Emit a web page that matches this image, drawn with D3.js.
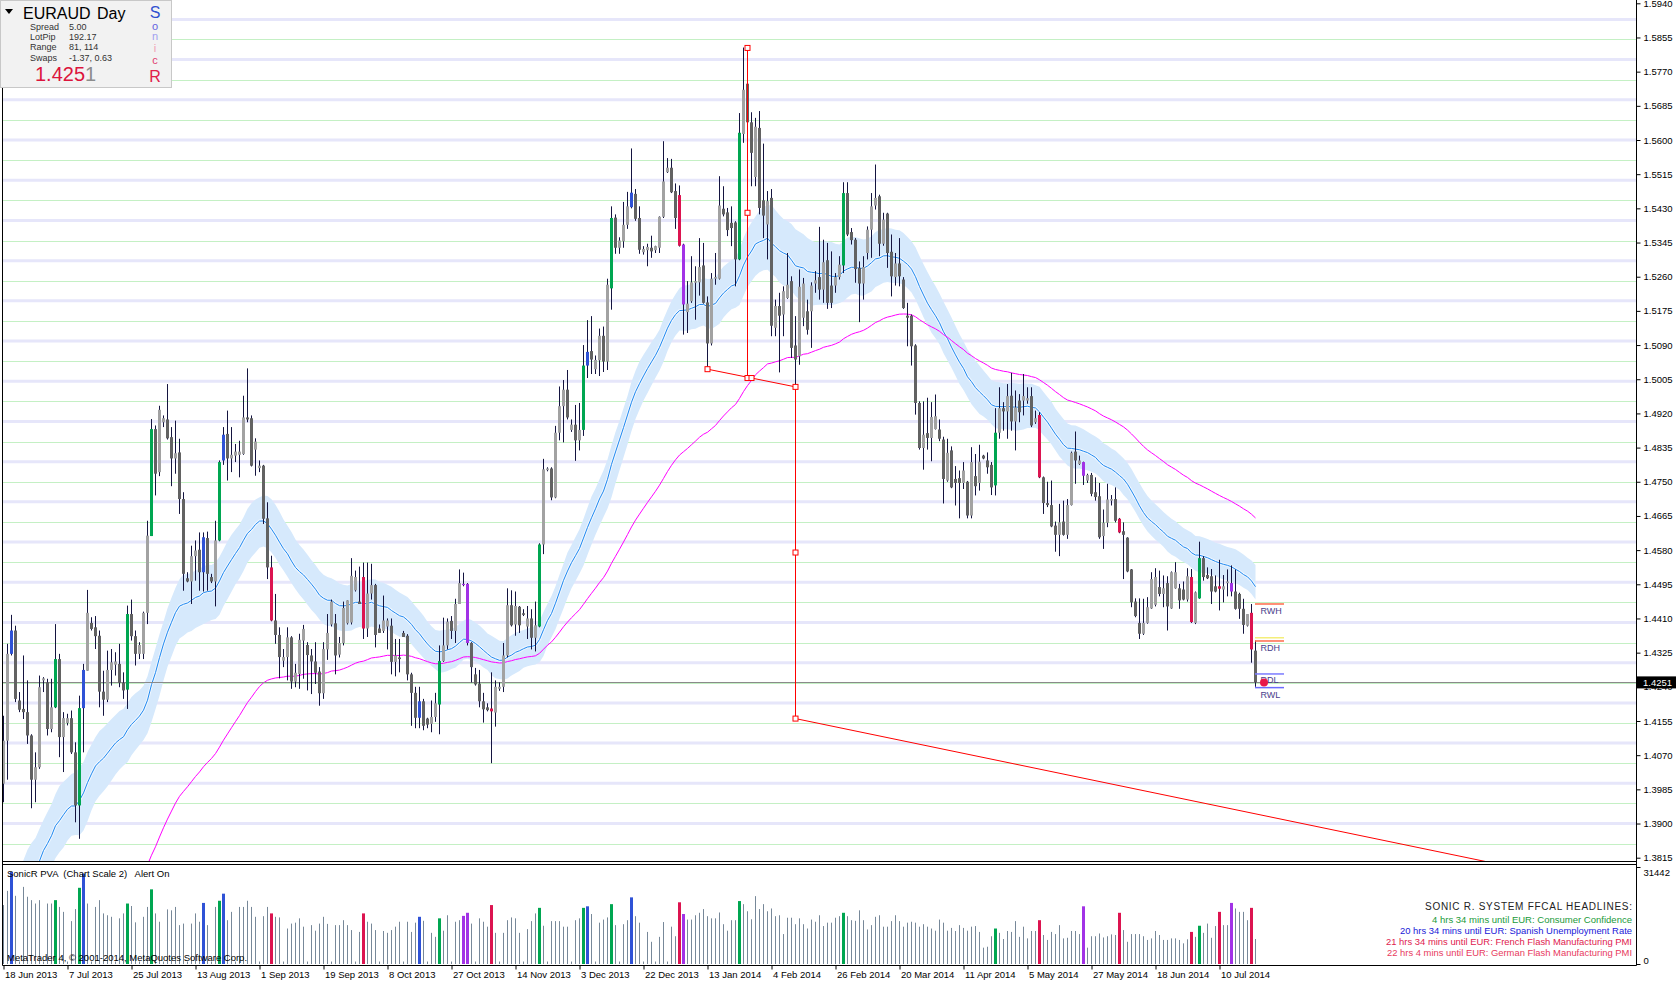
<!DOCTYPE html>
<html><head><meta charset="utf-8">
<script src="https://cdn.jsdelivr.net/npm/d3@7"></script>
<style>
body{margin:0;background:#fff;overflow:hidden}
svg{display:block;font-family:"Liberation Sans",Arial,sans-serif}
</style></head>
<body>
<svg id="chart" width="1676" height="983"></svg>
<script>
// ---------------- DATA ----------------
const opens=[1.3999,1.4106,1.4322,1.4380,1.4206,1.4185,1.4177,1.4119,1.4009,1.4040,1.4256,1.4251,1.4135,1.4189,1.4309,1.4115,1.4150,1.4162,1.4077,1.3945,1.4187,1.4280,1.4399,1.4388,1.4367,1.4228,1.4208,1.4282,1.4295,1.4297,1.4250,1.4233,1.4421,1.4366,1.4322,1.4322,1.4424,1.4615,1.4881,1.4774,1.4898,1.4905,1.4861,1.4808,1.4823,1.4707,1.4510,1.4502,1.4565,1.4581,1.4525,1.4610,1.4513,1.4502,1.4604,1.4803,1.4869,1.4808,1.4815,1.4817,1.4819,1.4910,1.4908,1.4830,1.4784,1.4790,1.4659,1.4537,1.4405,1.4369,1.4305,1.4314,1.4363,1.4253,1.4272,1.4355,1.4344,1.4318,1.4303,1.4278,1.4224,1.4333,1.4395,1.4398,1.4320,1.4349,1.4398,1.4400,1.4480,1.4452,1.4513,1.4385,1.4472,1.4493,1.4385,1.4379,1.4390,1.4392,1.4302,1.4313,1.4374,1.4367,1.4271,1.4225,1.4163,1.4204,1.4161,1.4148,1.4165,1.4196,1.4304,1.4343,1.4404,1.4379,1.4446,1.4493,1.4496,1.4349,1.4271,1.4248,1.4204,1.4189,1.4186,1.4176,1.4235,1.4240,1.4318,1.4443,1.4395,1.4439,1.4423,1.4390,1.4410,1.4362,1.4390,1.4594,1.4779,1.4783,1.4711,1.4872,1.4938,1.4979,1.4879,1.4892,1.4853,1.4879,1.5039,1.5075,1.5030,1.5052,1.5113,1.5049,1.5231,1.5407,1.5332,1.5348,1.5389,1.5433,1.5466,1.5406,1.5321,1.5326,1.5332,1.5326,1.5332,1.5409,1.5520,1.5531,1.5473,1.5463,1.5340,1.5172,1.5199,1.5245,1.5246,1.5288,1.5196,1.5094,1.5255,1.5255,1.5429,1.5420,1.5394,1.5395,1.5303,1.5615,1.5740,1.5644,1.5508,1.5630,1.5450,1.5390,1.5456,1.5133,1.5187,1.5166,1.5207,1.5249,1.5089,1.5062,1.5158,1.5174,1.5174,1.5243,1.5259,1.5228,1.5301,1.5238,1.5238,1.5259,1.5288,1.5468,1.5371,1.5352,1.5282,1.5243,1.5319,1.5377,1.5437,1.5460,1.5342,1.5417,1.5322,1.5259,1.5293,1.5253,1.5163,1.5163,1.5089,1.4946,1.4834,1.4871,1.4859,1.4881,1.4880,1.4855,1.4753,1.4828,1.4757,1.4759,1.4747,1.4750,1.4666,1.4764,1.4747,1.4815,1.4803,1.4792,1.4741,1.4872,1.4933,1.4925,1.4964,1.4900,1.4952,1.4952,1.4952,1.4963,1.4898,1.4916,1.4761,1.4697,1.4692,1.4641,1.4618,1.4651,1.4618,1.4692,1.4825,1.4794,1.4799,1.4753,1.4767,1.4724,1.4714,1.4615,1.4648,1.4703,1.4707,1.4658,1.4627,1.4611,1.4532,1.4452,1.4399,1.4372,1.4399,1.4435,1.4444,1.4488,1.4471,1.4498,1.4435,1.4485,1.4485,1.4482,1.4457,1.4513,1.4399,1.4460,1.4560,1.4518,1.4515,1.4490,1.4490,1.4482,1.4498,1.4498,1.4477,1.4471,1.4434,1.4392,1.4424,1.4330];
const highs=[1.4168,1.4347,1.4419,1.4392,1.4227,1.4318,1.4256,1.4122,1.4077,1.4268,1.4264,1.4260,1.4260,1.4396,1.4322,1.4177,1.4173,1.4181,1.4102,1.4218,1.4297,1.4481,1.4413,1.4416,1.4380,1.4280,1.4330,1.4334,1.4326,1.4347,1.4276,1.4442,1.4457,1.4380,1.4351,1.4427,1.4653,1.4906,1.4890,1.4939,1.4915,1.4993,1.4886,1.4902,1.4857,1.4724,1.4525,1.4591,1.4604,1.4624,1.4624,1.4626,1.4521,1.4653,1.4803,1.4886,1.4927,1.4886,1.4844,1.4852,1.4964,1.5032,1.4915,1.4858,1.4803,1.4792,1.4699,1.4566,1.4471,1.4388,1.4334,1.4388,1.4366,1.4297,1.4372,1.4394,1.4351,1.4334,1.4351,1.4289,1.4351,1.4421,1.4457,1.4421,1.4364,1.4452,1.4455,1.4560,1.4529,1.4539,1.4549,1.4549,1.4546,1.4496,1.4395,1.4467,1.4410,1.4410,1.4359,1.4359,1.4379,1.4371,1.4275,1.4240,1.4240,1.4210,1.4163,1.4206,1.4225,1.4343,1.4412,1.4410,1.4416,1.4459,1.4532,1.4524,1.4498,1.4351,1.4287,1.4282,1.4225,1.4199,1.4276,1.4256,1.4251,1.4349,1.4485,1.4480,1.4477,1.4441,1.4433,1.4441,1.4433,1.4452,1.4597,1.4807,1.4786,1.4786,1.4889,1.4987,1.5003,1.5028,1.4905,1.4941,1.4946,1.5090,1.5152,1.5162,1.5064,1.5131,1.5136,1.5255,1.5435,1.5415,1.5358,1.5446,1.5471,1.5579,1.5478,1.5435,1.5336,1.5342,1.5362,1.5337,1.5410,1.5597,1.5555,1.5553,1.5492,1.5487,1.5342,1.5249,1.5311,1.5286,1.5356,1.5344,1.5211,1.5269,1.5319,1.5510,1.5485,1.5431,1.5435,1.5398,1.5667,1.5830,1.5742,1.5669,1.5655,1.5672,1.5591,1.5473,1.5478,1.5203,1.5220,1.5236,1.5319,1.5261,1.5162,1.5278,1.5257,1.5203,1.5246,1.5274,1.5384,1.5352,1.5344,1.5323,1.5269,1.5311,1.5495,1.5495,1.5381,1.5356,1.5298,1.5311,1.5385,1.5468,1.5539,1.5464,1.5419,1.5419,1.5365,1.5319,1.5356,1.5259,1.5195,1.5166,1.5092,1.4950,1.4950,1.4959,1.4948,1.4967,1.4905,1.4862,1.4857,1.4838,1.4789,1.4778,1.4799,1.4752,1.4836,1.4819,1.4842,1.4817,1.4823,1.4799,1.4933,1.4985,1.4948,1.4993,1.5021,1.4977,1.4968,1.5018,1.4985,1.4985,1.4927,1.4923,1.4763,1.4750,1.4753,1.4651,1.4695,1.4703,1.4707,1.4825,1.4875,1.4815,1.4800,1.4770,1.4772,1.4761,1.4747,1.4681,1.4745,1.4717,1.4736,1.4660,1.4649,1.4612,1.4533,1.4460,1.4460,1.4459,1.4463,1.4525,1.4535,1.4529,1.4517,1.4515,1.4527,1.4550,1.4496,1.4502,1.4535,1.4533,1.4477,1.4601,1.4565,1.4537,1.4533,1.4517,1.4556,1.4518,1.4532,1.4542,1.4532,1.4474,1.4459,1.4421,1.4446,1.4355];
const lows=[1.3953,1.4009,1.4318,1.4202,1.4177,1.4160,1.4098,1.3938,1.3953,1.4036,1.4227,1.4119,1.4127,1.4187,1.4065,1.4028,1.4144,1.4073,1.3903,1.3862,1.4077,1.4280,1.4380,1.4334,1.4189,1.4168,1.4202,1.4243,1.4268,1.4239,1.4210,1.4185,1.4355,1.4293,1.4309,1.4309,1.4396,1.4615,1.4716,1.4764,1.4886,1.4855,1.4739,1.4770,1.4670,1.4479,1.4500,1.4446,1.4504,1.4479,1.4477,1.4479,1.4498,1.4440,1.4602,1.4792,1.4753,1.4774,1.4799,1.4761,1.4817,1.4898,1.4788,1.4765,1.4774,1.4645,1.4508,1.4403,1.4347,1.4261,1.4289,1.4256,1.4235,1.4239,1.4235,1.4260,1.4231,1.4222,1.4247,1.4193,1.4210,1.4307,1.4390,1.4271,1.4313,1.4343,1.4395,1.4395,1.4477,1.4446,1.4359,1.4364,1.4457,1.4338,1.4374,1.4374,1.4333,1.4271,1.4266,1.4276,1.4364,1.4256,1.4143,1.4137,1.4137,1.4132,1.4137,1.4127,1.4153,1.4122,1.4302,1.4333,1.4359,1.4349,1.4446,1.4490,1.4343,1.4251,1.4243,1.4189,1.4151,1.4179,1.4050,1.4141,1.4230,1.4227,1.4313,1.4390,1.4367,1.4374,1.4416,1.4359,1.4333,1.4328,1.4388,1.4570,1.4776,1.4704,1.4709,1.4853,1.4848,1.4905,1.4874,1.4802,1.4828,1.4864,1.5008,1.5018,1.5018,1.5013,1.5023,1.5028,1.5178,1.5317,1.5317,1.5332,1.5379,1.5430,1.5399,1.5317,1.5315,1.5286,1.5307,1.5319,1.5319,1.5406,1.5518,1.5468,1.5379,1.5335,1.5116,1.5120,1.5195,1.5153,1.5213,1.5193,1.5031,1.5089,1.5240,1.5253,1.5410,1.5361,1.5336,1.5236,1.5301,1.5593,1.5597,1.5485,1.5485,1.5415,1.5356,1.5303,1.5112,1.5112,1.5022,1.5112,1.5205,1.5058,1.4988,1.5041,1.5137,1.5116,1.5083,1.5220,1.5203,1.5195,1.5180,1.5182,1.5220,1.5253,1.5269,1.5361,1.5340,1.5245,1.5147,1.5203,1.5303,1.5307,1.5427,1.5311,1.5337,1.5282,1.5211,1.5238,1.5236,1.5180,1.5087,1.5039,1.4917,1.4830,1.4780,1.4830,1.4801,1.4880,1.4851,1.4696,1.4750,1.4734,1.4691,1.4659,1.4732,1.4659,1.4659,1.4716,1.4728,1.4806,1.4770,1.4717,1.4716,1.4857,1.4877,1.4857,1.4877,1.4828,1.4898,1.4915,1.4944,1.4886,1.4894,1.4759,1.4670,1.4687,1.4637,1.4576,1.4565,1.4616,1.4608,1.4691,1.4745,1.4792,1.4742,1.4747,1.4714,1.4703,1.4608,1.4583,1.4637,1.4691,1.4649,1.4622,1.4508,1.4525,1.4438,1.4413,1.4359,1.4369,1.4397,1.4434,1.4440,1.4465,1.4438,1.4380,1.4434,1.4484,1.4434,1.4455,1.4452,1.4399,1.4396,1.4459,1.4504,1.4508,1.4446,1.4475,1.4430,1.4450,1.4465,1.4465,1.4432,1.4409,1.4372,1.4390,1.4300,1.4240];
const closes=[1.4106,1.4322,1.4380,1.4210,1.4183,1.4177,1.4119,1.4009,1.4040,1.4239,1.4261,1.4135,1.4189,1.4309,1.4115,1.4162,1.4162,1.4077,1.3945,1.4187,1.4282,1.4424,1.4384,1.4366,1.4228,1.4208,1.4282,1.4301,1.4303,1.4250,1.4231,1.4421,1.4366,1.4322,1.4344,1.4424,1.4616,1.4881,1.4770,1.4929,1.4908,1.4858,1.4808,1.4821,1.4707,1.4521,1.4502,1.4565,1.4579,1.4525,1.4612,1.4521,1.4502,1.4604,1.4799,1.4867,1.4808,1.4817,1.4825,1.4825,1.4910,1.4905,1.4790,1.4850,1.4790,1.4658,1.4537,1.4405,1.4369,1.4314,1.4314,1.4363,1.4253,1.4275,1.4357,1.4384,1.4319,1.4303,1.4275,1.4224,1.4334,1.4374,1.4452,1.4318,1.4349,1.4436,1.4455,1.4516,1.4513,1.4446,1.4385,1.4472,1.4493,1.4369,1.4374,1.4405,1.4405,1.4302,1.4318,1.4309,1.4364,1.4271,1.4225,1.4163,1.4204,1.4143,1.4146,1.4165,1.4199,1.4304,1.4343,1.4402,1.4379,1.4446,1.4498,1.4496,1.4349,1.4289,1.4246,1.4204,1.4184,1.4182,1.4179,1.4240,1.4240,1.4318,1.4443,1.4393,1.4441,1.4393,1.4419,1.4410,1.4362,1.4393,1.4594,1.4781,1.4783,1.4711,1.4872,1.4938,1.4979,1.4910,1.4892,1.4853,1.4879,1.5039,1.5073,1.5054,1.5053,1.5113,1.5049,1.5240,1.5406,1.5332,1.5350,1.5389,1.5435,1.5469,1.5404,1.5327,1.5329,1.5334,1.5323,1.5336,1.5409,1.5497,1.5531,1.5470,1.5406,1.5337,1.5191,1.5193,1.5246,1.5249,1.5284,1.5195,1.5094,1.5255,1.5259,1.5437,1.5415,1.5376,1.5381,1.5303,1.5618,1.5725,1.5644,1.5568,1.5633,1.5431,1.5412,1.5448,1.5138,1.5187,1.5163,1.5224,1.5240,1.5083,1.5054,1.5235,1.5243,1.5128,1.5238,1.5251,1.5228,1.5296,1.5195,1.5195,1.5259,1.5290,1.5468,1.5365,1.5351,1.5279,1.5243,1.5284,1.5377,1.5435,1.5456,1.5342,1.5402,1.5319,1.5261,1.5293,1.5261,1.5182,1.5158,1.5087,1.4946,1.4834,1.4867,1.4859,1.4911,1.4913,1.4857,1.4757,1.4822,1.4736,1.4747,1.4747,1.4778,1.4666,1.4799,1.4739,1.4800,1.4808,1.4786,1.4736,1.4872,1.4933,1.4925,1.4963,1.4900,1.4935,1.4923,1.4963,1.4958,1.4890,1.4908,1.4761,1.4697,1.4692,1.4639,1.4618,1.4649,1.4618,1.4692,1.4822,1.4803,1.4803,1.4765,1.4767,1.4720,1.4712,1.4612,1.4648,1.4706,1.4707,1.4653,1.4624,1.4618,1.4527,1.4450,1.4416,1.4372,1.4399,1.4438,1.4508,1.4513,1.4471,1.4485,1.4440,1.4525,1.4525,1.4455,1.4457,1.4515,1.4401,1.4475,1.4560,1.4513,1.4510,1.4477,1.4477,1.4484,1.4490,1.4502,1.4477,1.4434,1.4434,1.4394,1.4421,1.4333,1.4251];
const volumes=[19100,23700,29800,22100,800,25000,21800,20700,19600,20700,800,19600,19600,20700,18500,16900,800,13900,17800,24700,29300,19600,800,18500,20700,16400,15800,15300,800,14800,16400,19600,18800,13500,800,15300,18500,24200,16400,13700,800,17700,17400,18500,12600,13100,800,13100,16400,13700,19800,12600,800,18500,20500,22800,14200,16900,800,18500,18500,20500,18500,15300,800,15500,18500,16400,15300,15100,800,11500,13100,13400,14800,12100,800,12600,10800,13100,15300,13000,800,12600,12600,14200,12600,11000,800,10400,16400,13700,13100,11000,800,10700,10100,11000,12100,13700,800,13700,10400,13400,15300,14000,800,10100,8800,14800,10800,15800,800,13700,14200,15600,16600,13100,800,14800,13700,12100,19100,10100,800,10100,14200,15100,14800,10100,800,11300,13900,16400,18200,12400,800,13900,13900,13900,12100,12100,800,14200,14800,18200,18700,16200,800,13400,14400,15100,19400,12600,800,12900,14200,21600,15500,13400,800,10400,7200,800,8800,13600,800,12100,9000,20000,16200,14400,14400,15800,16600,17800,15500,14800,14800,16700,12900,10800,14200,14200,20400,19400,17100,14500,22000,17800,19400,17100,18000,15500,15800,9700,15000,15000,12900,14800,12900,11500,14400,13700,15800,12300,13400,13400,15000,15500,16600,15500,14200,14000,17400,14200,11200,12600,15300,15800,12100,12100,13900,15800,13900,12100,13400,13700,13400,12100,12900,12100,11500,10800,14400,13400,10800,11700,10700,12600,11700,10800,12100,12300,10400,5300,5600,9000,11500,10100,8100,10700,10400,13900,8800,12100,8300,10700,10700,14200,9400,7800,10400,9700,12600,8300,8500,10700,10700,9700,18700,5300,9000,9000,9900,8600,9000,9600,9400,16600,11000,7200,9700,9700,9700,9000,7800,8300,10700,9400,7800,7800,8300,8300,7800,6700,8000,10400,8800,12400,10100,13100,8500,12300,16900,12600,12600,19800,18000,16900,16900,14200,18200,8100];
// special (PVA) bars
const greenIdx=[13,19,31,37,54,109,134,145,152,184,210,248,299];
const blueIdx=[2,20,50,55,104,146,157];
const redIdx=[67,90,122,169,259,279,297,304,312];
const purpleIdx=[115,116,170,270,307];
// axis labels
const priceTicks=[1.3815,1.3900,1.3985,1.4070,1.4155,1.4240,1.4325,1.4410,1.4495,1.4580,1.4665,1.4750,1.4835,1.4920,1.5005,1.5090,1.5175,1.5260,1.5345,1.5430,1.5515,1.5600,1.5685,1.5770,1.5855,1.5940];
const dateTickIdx=[0,16,32,48,64,80,96,112,128,144,160,176,192,208,224,240,256,272,288,304];
const dateLabels=["18 Jun 2013","7 Jul 2013","25 Jul 2013","13 Aug 2013","1 Sep 2013","19 Sep 2013","8 Oct 2013","27 Oct 2013","14 Nov 2013","3 Dec 2013","22 Dec 2013","13 Jan 2014","4 Feb 2014","26 Feb 2014","20 Mar 2014","11 Apr 2014","5 May 2014","27 May 2014","18 Jun 2014","10 Jul 2014"];
// moving-average seeds (value before first visible bar)
const ema34Seed=1.3516, ema34HighSeed=1.3596, ema34LowSeed=1.3436, ema89Seed=1.3192;
// zigzag / projection
const zzVert1Idx=[186,186], zzVert1Px=[1.5829,1.5008];
const zzNeckIdx=[176,187,198], zzNeckPx=[1.5030,1.5008,1.4986];
const zzVert2Idx=[198,198], zzVert2Px=[1.4986,1.4161];
const zzProjIdx=[198,380], zzProjPx=[1.4161,1.3786];
const zzMarkIdx=[176,186,186,186,187,198,198,198];
const zzMarkPx=[1.5030,1.5829,1.5419,1.5008,1.5008,1.4986,1.4574,1.4161];
// range levels
const levelNames=["RWH","RDH","RDL","RWL"];
const levelPrices=[1.4446,1.4354,1.4272,1.4238];
const levelColors=["#ff6a4a","#ff6a4a","#7b7bff","#6b6bff"];
const levelTextY=[10,10,9,10];
const pivotPrice=1.4362;
const lastPrice=1.4251;
const volMax=31442;
const headlines=["4 hrs 34 mins until EUR: Consumer Confidence","20 hrs 34 mins until EUR: Spanish Unemployment Rate","21 hrs 34 mins until EUR: French Flash Manufacturing PMI","22 hrs 4 mins until EUR: German Flash Manufacturing PMI"];
const headlineColors=["#1a9a3a","#2020d8","#e0204e","#e83a5e"];
const headlineWidths=[200,232,246,245];

// ---------------- CHART ----------------
const svg=d3.select("#chart");
const N=closes.length;
const x=d3.scaleLinear().domain([0,1]).range([3.5,7.5]);
const y=d3.scaleLinear().domain([1.3815,1.5940]).range([857.7,3.3]);
const yv=d3.scaleLinear().domain([0,volMax]).range([964,867]);
const AXX=1636.5;

svg.append("rect").attr("width",1676).attr("height",983).attr("fill","#fff");
const defs=svg.append("defs");
defs.append("clipPath").attr("id","clipMain").append("rect").attr("x",3).attr("y",0).attr("width",1633).attr("height",861);

// grid
const gGrid=svg.append("g").attr("clip-path","url(#clipMain)");
const lav=d3.range(139,160).map(k=>k/100);
const grn=d3.range(138.5,160,1).map(k=>k/100);
gGrid.selectAll(".lav").data(lav).join("line").attr("x1",3).attr("x2",1636)
  .attr("y1",d=>y(d)).attr("y2",d=>y(d)).attr("stroke","#e6e6fa").attr("stroke-width",3);
gGrid.selectAll(".grn").data(grn).join("line").attr("x1",3).attr("x2",1636)
  .attr("y1",d=>Math.round(y(d))+0.5).attr("y2",d=>Math.round(y(d))+0.5).attr("stroke","#c4f0c4").attr("stroke-width",1);

// EMAs
function ema(arr,period,seed){const a=2/(period+1);let e=seed;return arr.map(v=>(e=e+a*(v-e)));}
const e34=ema(closes,34,ema34Seed), e34h=ema(highs,34,ema34HighSeed), e34l=ema(lows,34,ema34LowSeed), e89=ema(closes,89,ema89Seed);
const gMA=svg.append("g").attr("clip-path","url(#clipMain)");
gMA.append("path").datum(d3.range(N)).attr("fill","#d6e9fc")
  .attr("d",d3.area().x(i=>x(i)).y0(i=>y(e34l[i])).y1(i=>y(e34h[i])));
gMA.append("path").datum(d3.range(N)).attr("fill","none").attr("stroke","#eef6ff").attr("stroke-width",3)
  .attr("d",d3.line().x(i=>x(i)).y(i=>y(e34[i])));
gMA.append("path").datum(d3.range(N)).attr("fill","none").attr("stroke","#1e88f0").attr("stroke-width",1)
  .attr("d",d3.line().x(i=>x(i)).y(i=>y(e34[i])));
gMA.append("path").datum(d3.range(N)).attr("fill","none").attr("stroke","#ff00ff").attr("stroke-width",1)
  .attr("d",d3.line().x(i=>x(i)).y(i=>y(e89[i])));

// current price line
svg.append("line").attr("x1",3).attr("x2",AXX).attr("y1",Math.round(y(lastPrice))+0.5).attr("y2",Math.round(y(lastPrice))+0.5)
  .attr("stroke","#8a8a8a").attr("stroke-width",1);

// special colors
const special={};
greenIdx.forEach(i=>special[i]="#00a651");
blueIdx.forEach(i=>special[i]="#2f52d6");
redIdx.forEach(i=>special[i]="#dc1450");
purpleIdx.forEach(i=>special[i]="#a232e6");

// candles
const gC=svg.append("g").attr("clip-path","url(#clipMain)");
const idx=d3.range(N);
gC.selectAll(".wick").data(idx).join("line")
  .attr("x1",i=>x(i)).attr("x2",i=>x(i))
  .attr("y1",i=>y(Math.max(highs[i],opens[i],closes[i]))).attr("y2",i=>y(Math.min(lows[i],opens[i],closes[i])))
  .attr("stroke","#141440").attr("stroke-width",1);
gC.selectAll(".body").data(idx).join("rect")
  .attr("x",i=>x(i)-1.5).attr("width",3)
  .attr("y",i=>y(Math.max(opens[i],closes[i])))
  .attr("height",i=>Math.max(1,Math.abs(y(opens[i])-y(closes[i]))))
  .attr("fill",i=>special[i]||(closes[i]>=opens[i]?"#a2a2a2":"#626262"));

// zigzag projection
const gZ=svg.append("g").attr("clip-path","url(#clipMain)");
const zl=d3.line().x(d=>x(d[0])).y(d=>y(d[1]));
[[zzVert1Idx,zzVert1Px],[zzNeckIdx,zzNeckPx],[zzVert2Idx,zzVert2Px],[zzProjIdx,zzProjPx]].forEach(([a,b])=>{
  gZ.append("path").datum(a.map((v,k)=>[v,b[k]])).attr("fill","none").attr("stroke","#ff0000").attr("stroke-width",1).attr("d",zl);
});
gZ.selectAll(".mk").data(zzMarkIdx.map((v,k)=>[v,zzMarkPx[k]])).join("rect")
  .attr("x",d=>x(d[0])-2.5).attr("y",d=>y(d[1])-2.5).attr("width",5).attr("height",5)
  .attr("fill","#fff").attr("stroke","#ff0000").attr("stroke-width",1);

// range levels
const lx1=x(N-1)-0.5, lx2=x(N+6)+0.5;
svg.append("line").attr("x1",lx1).attr("x2",lx2).attr("y1",y(pivotPrice)).attr("y2",y(pivotPrice)).attr("stroke","#f4ee7a").attr("stroke-width",1.5);
svg.selectAll(".lvl").data(levelPrices).join("line").attr("x1",lx1).attr("x2",lx2)
  .attr("y1",d=>y(d)).attr("y2",d=>y(d)).attr("stroke",(d,k)=>levelColors[k]).attr("stroke-width",1.5);
svg.selectAll(".lvt").data(levelPrices).join("text").attr("x",x(N)+1).attr("y",(d,k)=>y(d)+levelTextY[k])
  .attr("font-size",9).attr("fill","#483d8b").text((d,k)=>levelNames[k]);
svg.append("circle").attr("cx",x(N+1)+0.5).attr("cy",y(lastPrice)).attr("r",4).attr("fill","#e8174a");

// frames
const frame=svg.append("g").attr("stroke","#000").attr("stroke-width",1);
frame.append("line").attr("x1",2.5).attr("x2",2.5).attr("y1",0).attr("y2",965.5);
frame.append("line").attr("x1",AXX).attr("x2",AXX).attr("y1",0).attr("y2",965.5);
frame.append("line").attr("x1",2.5).attr("x2",AXX).attr("y1",861.5).attr("y2",861.5);
frame.append("line").attr("x1",2.5).attr("x2",AXX).attr("y1",864.5).attr("y2",864.5);
frame.append("line").attr("x1",2.5).attr("x2",AXX).attr("y1",965.5).attr("y2",965.5);

// price axis
const pAxis=svg.append("g").attr("transform",`translate(${AXX},0)`)
  .call(d3.axisRight(y).tickValues(priceTicks).tickFormat(d3.format(".4f")).tickSize(4).tickSizeOuter(0).tickPadding(3));
pAxis.select(".domain").remove();
pAxis.selectAll("text").attr("font-size",9.5).attr("font-family","Liberation Sans, Arial, sans-serif").attr("fill","#000");
pAxis.selectAll("line").attr("stroke","#000");
// last price box
svg.append("rect").attr("x",1637).attr("y",y(lastPrice)-6).attr("width",39).attr("height",12).attr("fill","#000");
svg.append("text").attr("x",1643).attr("y",y(lastPrice)+4).attr("font-size",9.5).attr("fill","#fff").text(lastPrice.toFixed(4));

// volume panel
const gV=svg.append("g");
gV.selectAll(".vb").data(idx).join("rect")
  .attr("x",i=>special[i]?x(i)-1.5:x(i)-0.5).attr("width",i=>special[i]?3:1)
  .attr("y",i=>yv(volumes[i])).attr("height",i=>yv(0)-yv(volumes[i]))
  .attr("fill",i=>special[i]||"#778899");
svg.append("text").attr("x",7).attr("y",877).attr("font-size",9.5).attr("fill","#000").attr("xml:space","preserve")
  .text("SonicR PVA  (Chart Scale 2)   Alert On");
svg.append("text").attr("x",7).attr("y",961).attr("font-size",9.5).attr("fill","#000")
  .text("MetaTrader 4, \u00a9 2001-2014, MetaQuotes Software Corp.");
const vAxis=svg.append("g").attr("transform",`translate(${AXX},0)`)
  .call(d3.axisRight(yv).tickValues([0,volMax]).tickFormat(d3.format("d")).tickSize(4).tickSizeOuter(0).tickPadding(3));
vAxis.select(".domain").remove();
vAxis.selectAll("text").attr("font-size",9.5).attr("font-family","Liberation Sans, Arial, sans-serif").attr("fill","#000");
vAxis.selectAll(".tick").filter(d=>d===volMax).select("text").attr("dy","0.9em");
vAxis.selectAll(".tick").filter(d=>d===0).select("text").attr("dy","-0.1em");

// headlines
svg.append("text").attr("x",1632).attr("y",910).attr("text-anchor","end").attr("font-size",10).attr("fill","#222")
  .attr("textLength",207).attr("lengthAdjust","spacing").text("SONIC R. SYSTEM  FFCAL HEADLINES:");
svg.selectAll(".hl").data(headlines).join("text").attr("x",1632).attr("y",(d,k)=>922.8+k*11.1)
  .attr("text-anchor","end").attr("font-size",9).attr("fill",(d,k)=>headlineColors[k])
  .attr("textLength",(d,k)=>headlineWidths[k]).attr("lengthAdjust","spacingAndGlyphs").text(d=>d);

// date axis
const dAxis=svg.append("g").attr("transform","translate(0,965.5)")
  .call(d3.axisBottom(x).tickValues(dateTickIdx).tickFormat((d,k)=>dateLabels[k]).tickSize(4).tickSizeOuter(0).tickPadding(2));
dAxis.select(".domain").remove();
dAxis.selectAll("line").attr("stroke","#000");
dAxis.selectAll("text").attr("text-anchor","start").attr("dx",1).attr("font-size",9.5)
  .attr("font-family","Liberation Sans, Arial, sans-serif").attr("fill","#000");

// info box
const ib=svg.append("g");
ib.append("rect").attr("x",0.5).attr("y",0.5).attr("width",171).attr("height",87).attr("fill","#f2f2f2").attr("stroke","#c8c8c8");
ib.append("path").attr("d","M5,9 L13,9 L9,14 Z").attr("fill","#000");
ib.append("text").attr("x",23).attr("y",19).attr("font-size",16).attr("fill","#000").text("EURAUD");
ib.append("text").attr("x",97).attr("y",19).attr("font-size",16).attr("fill","#000").text("Day");
const infoL=["Spread","LotPip","Range","Swaps"], infoV=["5.00","192.17","81, 114","-1.37, 0.63"];
infoL.forEach((t,k)=>{
  ib.append("text").attr("x",30).attr("y",30+k*10.2).attr("font-size",9).attr("fill","#333").text(t);
  ib.append("text").attr("x",69).attr("y",30+k*10.2).attr("font-size",9).attr("fill","#333").text(infoV[k]);
});
const bigT=ib.append("text").attr("x",35).attr("y",81).attr("font-size",20);
bigT.append("tspan").attr("fill","#dc143c").text("1.425");
bigT.append("tspan").attr("fill","#8c8c8c").text("1");
const sonic=[["S",18,16,"#3050d0"],["o",29.5,11,"#6464e0"],["n",40,11,"#a0a0f0"],["i",52,11,"#f0a0b4"],["c",64,11,"#e04070"],["R",82,16,"#e0204a"]];
sonic.forEach(([t,yy,fs,c])=>ib.append("text").attr("x",155).attr("y",yy).attr("text-anchor","middle").attr("font-size",fs).attr("fill",c).text(t));
</script>
</body></html>
